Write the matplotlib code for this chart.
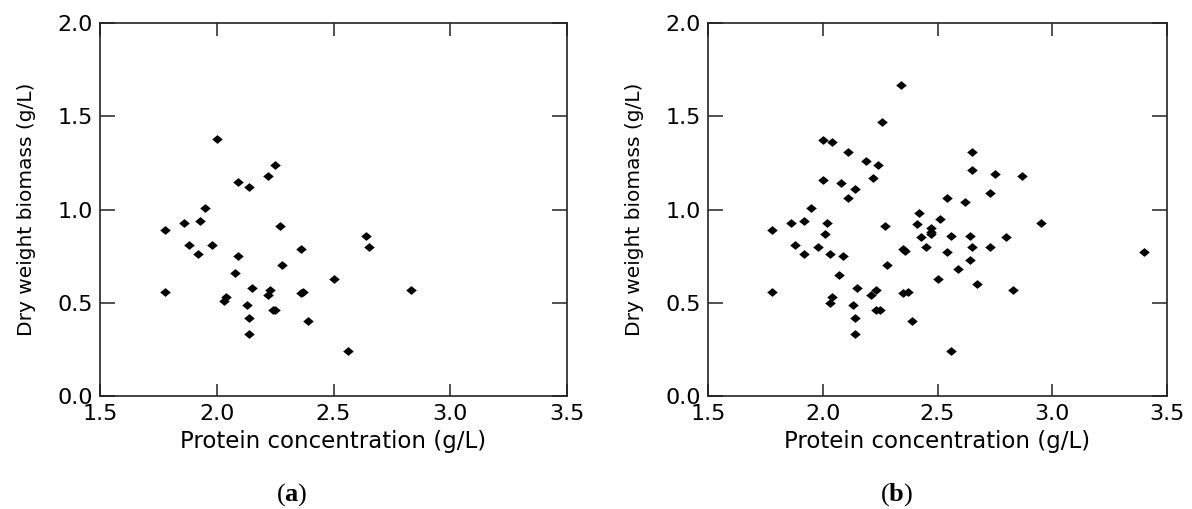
"""Two scatter panels: dry weight biomass vs protein concentration."""

import matplotlib

matplotlib.use("Agg")
from matplotlib import pyplot as plt

# panel (a)
protein_a = [2.00, 2.25, 2.22, 2.09, 2.14, 1.95, 1.86, 1.93, 1.78, 2.27, 2.64, 2.65,
             1.88, 1.98, 2.36, 1.92, 2.09, 2.28, 2.08, 2.50, 1.78, 2.15, 2.83, 2.04,
             2.03, 2.23, 2.22, 2.37, 2.36, 2.13, 2.24, 2.25, 2.14, 2.39, 2.14, 2.56]
biomass_a = [1.38, 1.24, 1.18, 1.15, 1.12, 1.01, 0.93, 0.94, 0.89, 0.91, 0.86, 0.80,
             0.81, 0.81, 0.79, 0.76, 0.75, 0.70, 0.66, 0.63, 0.56, 0.58, 0.57, 0.53,
             0.51, 0.57, 0.54, 0.56, 0.55, 0.49, 0.46, 0.46, 0.42, 0.40, 0.33, 0.24]

# panel (b)
protein_b = [2.34, 2.26, 2.00, 2.04, 2.11, 2.65, 2.19, 2.24, 2.22, 2.65, 2.75, 2.87,
             2.00, 2.08, 2.14, 2.73, 2.11, 2.54, 2.62, 1.95, 2.42, 2.51, 1.92, 1.86,
             2.02, 2.95, 2.41, 2.27, 2.47, 1.78, 2.47, 2.47, 2.01, 2.43, 2.56, 2.64,
             2.80, 1.88, 1.98, 2.45, 2.65, 2.73, 2.35, 2.36, 3.40, 1.92, 2.03, 2.09,
             2.54, 2.64, 2.28, 2.59, 2.07, 2.50, 2.67, 2.15, 2.23, 2.83, 1.78, 2.37,
             2.35, 2.21, 2.04, 2.03, 2.13, 2.23, 2.25, 2.14, 2.39, 2.14, 2.56]
biomass_b = [1.67, 1.47, 1.37, 1.36, 1.31, 1.31, 1.26, 1.24, 1.17, 1.21, 1.19, 1.18,
             1.16, 1.14, 1.11, 1.09, 1.06, 1.06, 1.04, 1.01, 0.98, 0.95, 0.94, 0.93,
             0.93, 0.93, 0.92, 0.91, 0.90, 0.89, 0.88, 0.87, 0.87, 0.85, 0.86, 0.86,
             0.85, 0.81, 0.80, 0.80, 0.80, 0.80, 0.79, 0.78, 0.77, 0.76, 0.76, 0.75,
             0.77, 0.73, 0.70, 0.68, 0.65, 0.63, 0.60, 0.58, 0.57, 0.57, 0.56, 0.56,
             0.55, 0.54, 0.53, 0.50, 0.49, 0.46, 0.46, 0.42, 0.40, 0.33, 0.24]

x_ticks = [1.5, 2.0, 2.5, 3.0, 3.5]
y_ticks = [0.0, 0.5, 1.0, 1.5, 2.0]
panel_tags = ["a", "b"]

W, H = 1192, 509
DIAMOND = [(-1.2, 0), (0, 1), (1.2, 0), (0, -1)]


def style_axes(ax, width_px):
    ax.set_xlim(1.5, 3.5)
    ax.set_ylim(0.0, 2.0)
    ax.set_xticks(x_ticks)
    ax.set_yticks(y_ticks)
    ax.set_xticklabels([f"{t:.1f}" for t in x_ticks])
    ax.set_yticklabels([f"{t:.1f}" for t in y_ticks])
    for spine in ax.spines.values():
        spine.set_color("#222222")
        spine.set_linewidth(1.2)
    ax.tick_params(axis="both", direction="in", top=True, right=True,
                   width=1.2, color="#333333", labelsize=16)
    ax.tick_params(axis="y", length=11, pad=5)
    ax.tick_params(axis="x", length=9, pad=6)
    ax.set_xlabel("Protein concentration (g/L)", fontsize=16.5)
    ax.set_ylabel("Dry weight biomass (g/L)", fontsize=14.5)
    ax.xaxis.set_label_coords(0.5, -0.09)
    ax.yaxis.set_label_coords(-64 / width_px, 0.5)


def main() -> None:
    plt.rcParams["font.family"] = ["DejaVu Sans"]
    plt.rcParams["mathtext.fontset"] = "custom"
    plt.rcParams["mathtext.rm"] = "Liberation Serif"
    plt.rcParams["mathtext.bf"] = "Liberation Serif:bold"

    fig = plt.figure(figsize=(W / 100, H / 100), dpi=100)
    boxes = [(100, 567), (708, 1167)]
    top, bottom = 23, 396
    data = [(protein_a, biomass_a), (protein_b, biomass_b)]

    for (left, right), (xs, ys), tag in zip(boxes, data, panel_tags):
        ax = fig.add_axes([left / W, 1 - bottom / H, (right - left) / W, (bottom - top) / H])
        ax.plot(xs, ys, linestyle="none", marker=DIAMOND, markersize=7.6,
                color="black", markeredgewidth=0)
        style_axes(ax, right - left)
        cx = left + 0.41 * (right - left)
        fig.text(cx / W, 1 - 495 / H, rf"($\mathbf{{{tag}}}$)", ha="center",
                 va="center", fontsize=19, family="Liberation Serif")

    fig.savefig("out.png", dpi=100)
    plt.close(fig)


if __name__ == "__main__":
    main()
